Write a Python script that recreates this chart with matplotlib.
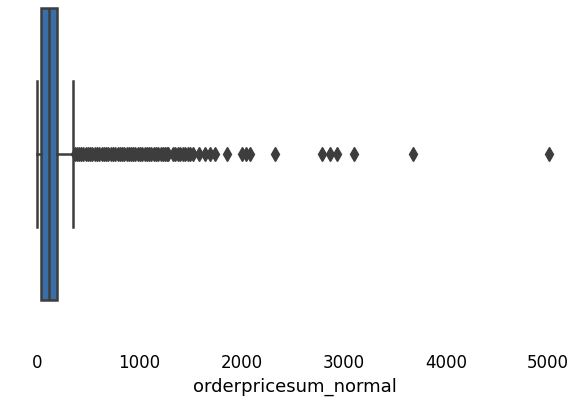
import matplotlib
matplotlib.use("Agg")
import matplotlib.pyplot as plt

# box statistics (orderpricesum_normal)
q1 = 39
median = 117
q3 = 196
whisker_low = 0
whisker_high = 350

# outliers: a dense run right after the whisker, then scattered points
fliers_dense = [372, 390, 411, 433, 452, 476, 497, 520, 541, 566, 588, 607,
                631, 652, 676, 698, 719, 744, 763, 788, 809, 832, 851, 876,
                897, 921, 940, 963, 987, 1008, 1031, 1052, 1076, 1097, 1120,
                1141, 1166, 1187, 1209, 1232, 1254, 1271, 1282]
fliers_cluster = [1331, 1352, 1378, 1401, 1426, 1452, 1474, 1499, 1526]
fliers_sparse = [1585, 1644, 1693, 1742, 1859, 2006, 2045, 2084, 2329,
                 2789, 2867, 2935, 3102, 3679, 5010]

xticks = [0, 1000, 2000, 3000, 4000, 5000]
xlabel = "orderpricesum_normal"

box_color = "#3a6ea8"
line_color = "#3d3d3d"

stats = [{
    "q1": q1, "med": median, "q3": q3,
    "whislo": whisker_low, "whishi": whisker_high,
    "fliers": fliers_dense + fliers_cluster + fliers_sparse,
}]

fig = plt.figure(figsize=(5.69, 4.05), dpi=100)
ax = fig.add_axes([0.0202, 0.169, 0.995, 0.901])

ax.bxp(stats, positions=[0], widths=0.8, capwidths=0.4,
       orientation="horizontal", patch_artist=True,
       boxprops=dict(facecolor=box_color, edgecolor=line_color, linewidth=1.8),
       medianprops=dict(color=line_color, linewidth=1.8),
       whiskerprops=dict(color=line_color, linewidth=1.8),
       capprops=dict(color=line_color, linewidth=1.8),
       flierprops=dict(marker="d", markersize=7, markerfacecolor=line_color,
                       markeredgecolor=line_color, linestyle="none"))

ax.set_xlim(-250, 5290)
ax.set_ylim(0.5, -0.5)
ax.set_xticks(xticks)
ax.set_xticklabels([str(t) for t in xticks])
ax.set_yticks([])
ax.tick_params(axis="x", length=0, pad=12.5, labelsize=12)
ax.set_xlabel(xlabel, fontsize=13, labelpad=4)
for s in ax.spines.values():
    s.set_visible(False)

fig.savefig("out.png", dpi=100)
